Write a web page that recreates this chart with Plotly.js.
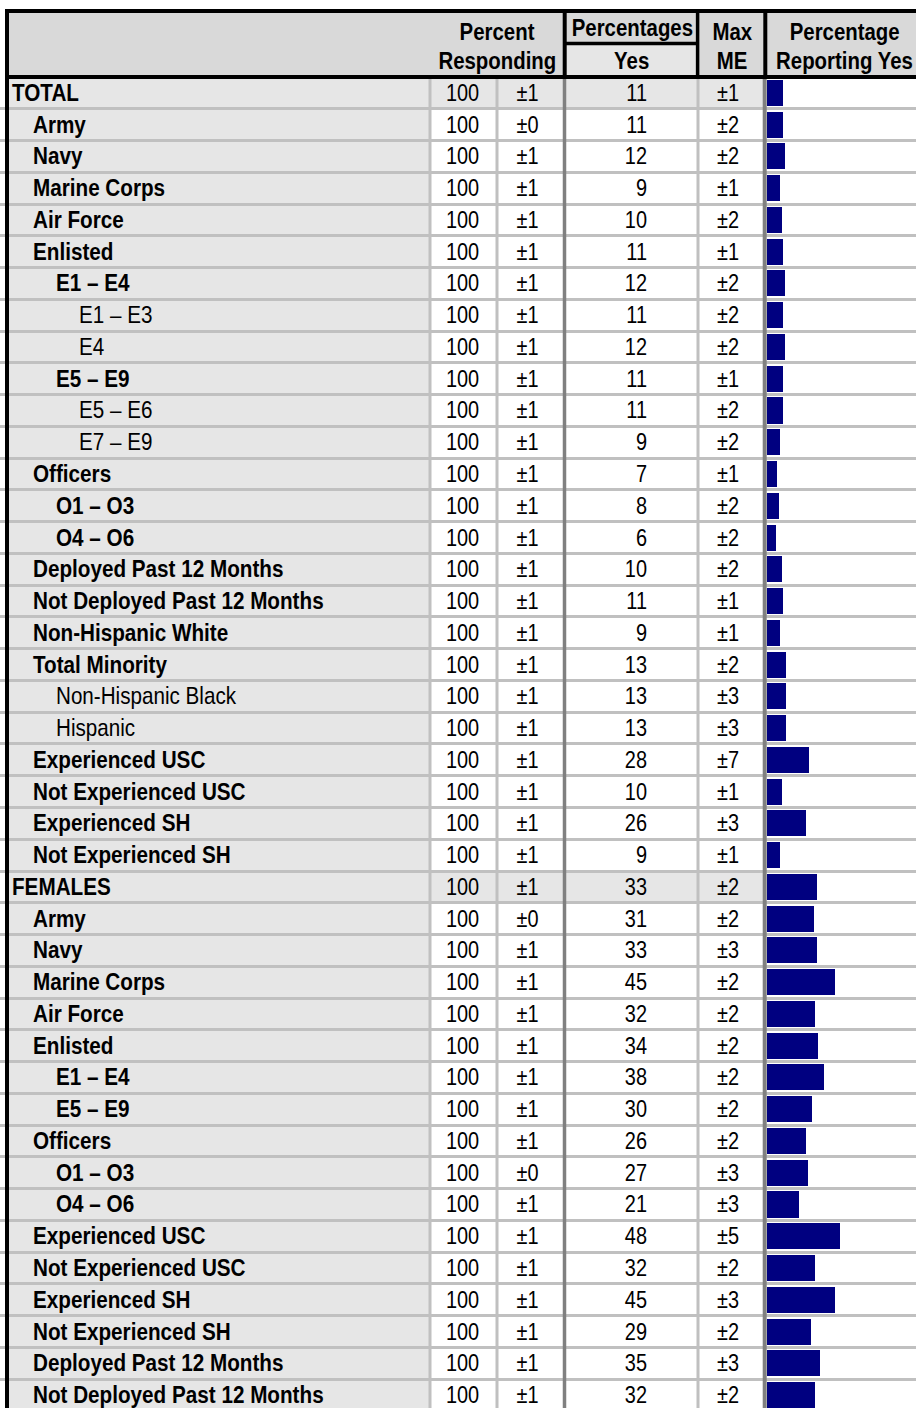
<!DOCTYPE html>
<html>
<head>
<meta charset="utf-8">
<script src="https://cdn.plot.ly/plotly-3.0.1.min.js"></script>
<style>
html,body{margin:0;padding:0;background:#fff;}
#chart{width:916px;height:1408px;}
</style>
</head>
<body>
<div id="chart"></div>
<script>
// ---------------- DATA ----------------
const rowLabels = [
  "TOTAL","Army","Navy","Marine Corps","Air Force","Enlisted","E1 – E4","E1 – E3","E4","E5 – E9","E5 – E6","E7 – E9",
  "Officers","O1 – O3","O4 – O6","Deployed Past 12 Months","Not Deployed Past 12 Months","Non-Hispanic White",
  "Total Minority","Non-Hispanic Black","Hispanic","Experienced USC","Not Experienced USC","Experienced SH","Not Experienced SH",
  "FEMALES","Army","Navy","Marine Corps","Air Force","Enlisted","E1 – E4","E5 – E9","Officers","O1 – O3","O4 – O6",
  "Experienced USC","Not Experienced USC","Experienced SH","Not Experienced SH","Deployed Past 12 Months","Not Deployed Past 12 Months"
];
// hierarchy level of each row (0 = group total)
const rowLevels = [0,1,1,1,1,1,2,3,3,2,3,3,1,2,2,1,1,1,1,2,2,1,1,1,1,
                   0,1,1,1,1,1,2,2,1,2,2,1,1,1,1,1,1];
// rows printed in bold
const rowBold = [1,1,1,1,1,1,1,0,0,1,0,0,1,1,1,1,1,1,1,0,0,1,1,1,1,
                 1,1,1,1,1,1,1,1,1,1,1,1,1,1,1,1,1];
const percentResponding = [100,100,100,100,100,100,100,100,100,100,100,100,100,100,100,100,100,100,100,100,100,100,100,100,100,
                           100,100,100,100,100,100,100,100,100,100,100,100,100,100,100,100,100];
const respondingME = [1,0,1,1,1,1,1,1,1,1,1,1,1,1,1,1,1,1,1,1,1,1,1,1,1,
                      1,0,1,1,1,1,1,1,1,0,1,1,1,1,1,1,1];
const percentYes = [11,11,12,9,10,11,12,11,12,11,11,9,7,8,6,10,11,9,13,13,13,28,10,26,9,
                    33,31,33,45,32,34,38,30,26,27,21,48,32,45,29,35,32];
const maxME = [1,2,2,1,2,1,2,2,2,1,2,2,1,2,2,2,1,1,2,3,3,7,1,3,1,
               2,2,3,2,2,2,2,2,2,3,3,5,2,3,2,3,2];
const headerLabels = {
  responding: ["Percent","Responding"],
  yes: ["Percentages","Yes"],
  me: ["Max","ME"],
  bar: ["Percentage","Reporting Yes"]
};

// ---------------- LAYOUT CONSTANTS ----------------
const W = 916, H = 1408, TOP = 77;
const plotH = H - TOP;
const rowPitch = 31.76;
const nRows = rowLabels.length;
const barStart = 766.7;        // px where bar axis zero sits
const barScale = 1.52;         // px per percent
const FONT = '"Liberation Sans Narrow","Arial Narrow","Liberation Sans",Arial,sans-serif';
const FS = 24;
// horizontal squeeze to emulate a narrow face
const SQUEEZE_BOLD = 0.862, SQUEEZE_LABEL = 0.86, SQUEEZE_NUM = 0.83, SQUEEZE_HDR = 0.85;
const TEXT_DROP = 2;           // px the cell text sits below row centre
const idx = rowLabels.map((_, i) => i);
const px = x => x / W;
const py = y => (H - y) / plotH;   // pixel y -> paper y (bottom margin 0)
const indentPx = [12, 33, 56, 79];

// ---------------- TRACES ----------------
const traces = [];
// bars
traces.push({
  type: 'bar', orientation: 'h', x: percentYes, y: idx,
  xaxis: 'x', yaxis: 'y', width: 0.82,
  marker: {color: '#000080', line: {width: 0}},
  hoverinfo: 'skip', showlegend: false
});
// labels
traces.push({
  type: 'scatter', mode: 'text', xaxis: 'x2', yaxis: 'y',
  x: rowLevels.map(l => indentPx[l]), y: idx,
  text: rowLabels.map((s, i) => rowBold[i] ? '<b>' + s + '</b>' : s),
  textposition: 'middle right',
  textfont: {family: FONT, size: FS, color: '#000'},
  hoverinfo: 'skip', showlegend: false, cliponaxis: false
});
function colText(vals, x, pos, fmt) {
  return {
    type: 'scatter', mode: 'text', xaxis: 'x2', yaxis: 'y',
    x: vals.map(() => x), y: idx, text: vals.map(fmt),
    textposition: pos,
    textfont: {family: FONT, size: FS, color: '#000'},
    hoverinfo: 'skip', showlegend: false, cliponaxis: false
  };
}
traces.push(colText(percentResponding, 462.5, 'middle center', v => String(v)));
traces.push(colText(respondingME, 527.5, 'middle center', v => '±' + v));
traces.push(colText(percentYes, 647, 'middle left', v => String(v)));
traces.push(colText(maxME, 728, 'middle center', v => '±' + v));

// ---------------- SHAPES ----------------
const shapes = [];
function rectP(x0, y0, x1, y1, fill, layer) {
  shapes.push({type: 'rect', xref: 'paper', yref: 'paper', x0: px(x0), x1: px(x1), y0: py(y1), y1: py(y0),
    fillcolor: fill, line: {width: 0}, layer: layer || 'below'});
}
function lineP(x0, y0, x1, y1, color, w) {
  shapes.push({type: 'line', xref: 'paper', yref: 'paper', x0: px(x0), x1: px(x1), y0: py(y0), y1: py(y1),
    line: {color: color, width: w}, layer: 'above'});
}
// label column background
rectP(7, TOP, 430, H, '#e6e6e6', 'below');
// group total rows highlighted in data columns
idx.forEach(i => {
  if (rowLevels[i] === 0) {
    shapes.push({type: 'rect', xref: 'paper', yref: 'y', x0: px(430), x1: px(765), y0: i - 0.5, y1: i + 0.5,
      fillcolor: '#e6e6e6', line: {width: 0}, layer: 'below'});
  }
});
// header fills
rectP(5, 9, W, TOP, '#d9d9d9', 'above');
rectP(565, 43.5, 697.5, TOP, '#e6e6e6', 'above');
// data region verticals
lineP(430, TOP, 430, H, '#c0c0c0', 3);
lineP(497, TOP, 497, H, '#c0c0c0', 3);
lineP(564.5, TOP, 564.5, H, '#808080', 3.5);
lineP(698, TOP, 698, H, '#c0c0c0', 3);
lineP(764.7, TOP, 764.7, H, '#808080', 4);
// header black lines
lineP(5, 11, W, 11, '#000', 4);
lineP(7, 9, 7, H, '#000', 4);
lineP(5, 77, W, 77, '#000', 4);
lineP(564.7, 11, 564.7, 77, '#000', 4);
lineP(697.6, 11, 697.6, 77, '#000', 3.5);
lineP(765.3, 11, 765.3, 77, '#000', 4);
lineP(564.7, 43.5, 697.6, 43.5, '#000', 3.5);

// ---------------- HEADER TEXT ----------------
const annotations = [];
function hdr(text, x, y) {
  annotations.push({text: '<b>' + text + '</b>', xref: 'paper', yref: 'paper', x: px(x), y: py(y),
    xanchor: 'center', yanchor: 'middle', showarrow: false,
    font: {family: FONT, size: FS, color: '#000'}});
}
hdr(headerLabels.responding[0], 497, 31);
hdr(headerLabels.responding[1], 497, 61);
hdr(headerLabels.yes[0], 632, 28);
hdr(headerLabels.yes[1], 631, 61);
hdr(headerLabels.me[0], 732, 31);
hdr(headerLabels.me[1], 732, 61);
hdr(headerLabels.bar[0], 844, 31);
hdr(headerLabels.bar[1], 844, 61);

// ---------------- LAYOUT ----------------
const gridVals = [];
for (let i = 0; i <= nRows; i++) gridVals.push(i - 0.5);
const yBottom = -0.5 + plotH / rowPitch;
const layout = {
  width: W, height: H,
  margin: {l: 0, r: 0, t: TOP, b: 0, pad: 0},
  paper_bgcolor: '#fff', plot_bgcolor: 'rgba(0,0,0,0)',
  showlegend: false,
  xaxis: {domain: [px(barStart), 1], range: [0, (W - barStart) / barScale], anchor: 'y',
          visible: true, showgrid: false, zeroline: false, showticklabels: false, ticks: '', showline: false},
  xaxis2: {domain: [0, 1], range: [0, W], anchor: 'y',
           visible: true, showgrid: false, zeroline: false, showticklabels: false, ticks: '', showline: false},
  yaxis: {range: [yBottom, -0.5], anchor: 'x2', tickmode: 'array', tickvals: gridVals,
          showticklabels: false, ticks: '', showgrid: true, gridcolor: '#c0c0c0', gridwidth: 3,
          zeroline: false, showline: false},
  bargap: 0,
  shapes: shapes,
  annotations: annotations
};

function squeezeText() {
  document.querySelectorAll('#chart .textpoint text').forEach(t => {
    const x = parseFloat(t.getAttribute('x')) || 0;
    const txt = t.textContent;
    let k;
    if (/^[±\d]+$/.test(txt)) k = SQUEEZE_NUM;
    else k = /bold/.test(t.innerHTML) ? SQUEEZE_BOLD : SQUEEZE_LABEL;
    t.setAttribute('transform', 'translate(' + x + ',' + TEXT_DROP + ') scale(' + k + ',1) translate(' + (-x) + ',0)');
  });
  document.querySelectorAll('#chart text.annotation-text').forEach(t => {
    const x = parseFloat(t.getAttribute('x')) || 0;
    t.setAttribute('transform', 'translate(' + x + ',0) scale(' + SQUEEZE_HDR + ',1) translate(' + (-x) + ',0)');
  });
}
Plotly.newPlot('chart', traces, layout, {staticPlot: true, displayModeBar: false}).then(squeezeText);
</script>
</body>
</html>
